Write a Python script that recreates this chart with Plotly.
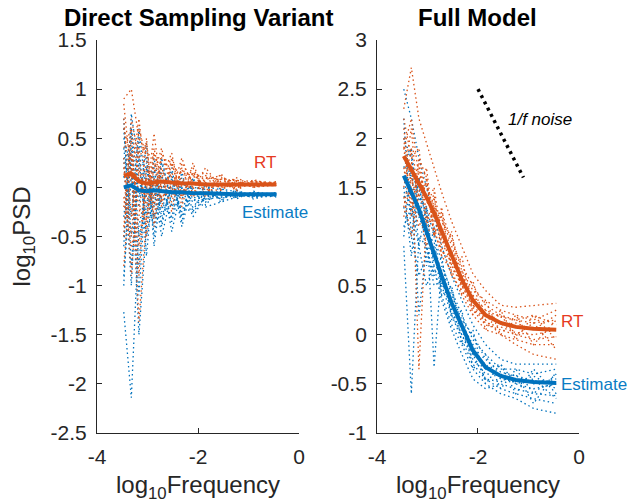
import plotly.graph_objects as go
from plotly.subplots import make_subplots

# log10 frequency grid shared by all spectra
freq = [-3.47, -3.32, -3.17, -3.02, -2.87, -2.72, -2.52, -2.32, -2.1, -1.85, -1.55, -1.25, -0.9, -0.45]

# Direct Sampling Variant
ds_rt_mean = [0.12, 0.14, 0.06, 0.04, 0.05, 0.06, 0.05, 0.04, 0.04, 0.03, 0.03, 0.03, 0.03, 0.03]
ds_est_mean = [0.0, 0.02, -0.03, -0.04, -0.03, -0.04, -0.05, -0.05, -0.06, -0.06, -0.07, -0.07, -0.07, -0.07]
ds_rt = [
    [0.9, 1.0, 0.5, 0.35, 0.3, 0.25, 0.2, 0.15, 0.12, 0.1, 0.08, 0.07, 0.06, 0.05],
    [0.6, 0.3, -1.37, -0.3, 0.1, -0.1, 0.0, 0.1, -0.05, 0.05, 0.0, 0.02, 0.01, 0.02],
    [-0.5, 0.7, 0.3, 0.45, -0.2, 0.3, 0.25, -0.1, 0.15, 0.0, 0.1, 0.05, 0.04, 0.03],
    [0.3, -0.9, 0.2, -0.2, 0.4, 0.0, -0.15, 0.2, 0.0, 0.12, 0.02, 0.0, 0.05, 0.04],
    [-0.2, 0.5, -0.6, 0.1, -0.1, 0.35, 0.1, 0.05, 0.2, -0.05, 0.06, 0.08, 0.0, 0.03],
    [0.7, -0.3, 0.4, -0.5, 0.25, -0.2, 0.3, 0.0, -0.1, 0.08, 0.12, 0.01, 0.03, 0.02],
    [-0.8, 0.2, -0.9, 0.2, 0.0, 0.15, -0.25, 0.25, 0.05, -0.02, -0.03, 0.06, 0.02, 0.04],
    [0.4, 0.6, 0.1, -0.1, 0.55, -0.05, 0.15, -0.05, 0.1, 0.15, 0.04, -0.01, 0.07, 0.03],
    [0.2, -0.5, 0.6, 0.3, -0.3, 0.2, -0.1, 0.18, -0.08, 0.1, -0.02, 0.07, 0.0, 0.05],
    [-0.4, 0.35, -0.2, -0.35, 0.35, -0.15, 0.25, -0.12, 0.16, -0.06, 0.09, -0.02, 0.06, 0.02],
    [0.85, 0.1, 0.7, 0.0, 0.15, 0.4, -0.05, 0.3, -0.02, 0.2, 0.0, 0.1, 0.02, 0.06],
    [-0.1, -0.6, -0.3, 0.5, -0.4, 0.1, 0.35, -0.2, 0.25, -0.1, 0.14, -0.04, 0.08, 0.01],
]
ds_est = [
    [-1.27, -2.14, -0.4, 0.0, -0.3, -0.1, -0.2, -0.15, -0.1, -0.12, -0.1, -0.09, -0.08, -0.08],
    [0.5, 0.2, -1.5, -0.4, 0.1, -0.3, 0.0, -0.1, -0.2, -0.05, -0.08, -0.06, -0.1, -0.07],
    [-0.6, 0.75, 0.2, 0.3, -0.5, 0.1, -0.35, 0.05, -0.05, -0.15, -0.04, -0.1, -0.06, -0.09],
    [0.3, -1.0, 0.5, -0.7, 0.2, -0.4, 0.1, -0.3, 0.0, -0.02, -0.12, -0.05, -0.07, -0.06],
    [-0.3, 0.4, -0.8, 0.2, -0.2, 0.25, -0.1, -0.2, -0.25, -0.1, -0.06, -0.08, -0.09, -0.08],
    [0.6, -0.5, 0.1, -0.3, 0.3, -0.15, -0.3, 0.1, -0.12, -0.2, -0.15, -0.1, -0.05, -0.07],
    [-0.9, 0.1, -0.2, 0.45, -0.6, 0.0, 0.15, -0.4, 0.05, 0.0, -0.02, -0.04, -0.08, -0.06],
    [0.1, 0.55, -0.5, -0.2, 0.0, -0.5, -0.05, 0.0, -0.3, -0.08, -0.1, -0.07, -0.1, -0.09],
    [0.4, -0.3, 0.6, -0.1, -0.4, 0.3, -0.2, 0.15, -0.25, 0.05, -0.15, -0.02, -0.12, -0.05],
    [-0.5, 0.3, -1.1, 0.1, 0.2, -0.25, 0.2, -0.35, 0.1, -0.18, 0.0, -0.12, -0.04, -0.1],
    [0.7, -0.8, 0.3, -0.5, -0.1, 0.15, -0.45, 0.0, -0.15, 0.02, -0.13, -0.03, -0.09, -0.07],
    [-1.0, 0.6, -0.1, 0.25, -0.3, -0.35, 0.05, -0.25, 0.08, -0.12, -0.05, -0.1, -0.06, -0.08],
]

# Full Model
fm_rt_mean = [1.82, 1.68, 1.55, 1.40, 1.24, 1.06, 0.80, 0.56, 0.35, 0.20, 0.12, 0.08, 0.06, 0.05]
fm_est_mean = [1.62, 1.45, 1.28, 1.05, 0.82, 0.6, 0.32, 0.08, -0.16, -0.33, -0.42, -0.46, -0.48, -0.49]
fm_rt = [
    [2.3, 2.72, 2.2, 1.95, 1.7, 1.45, 1.15, 0.9, 0.62, 0.45, 0.3, 0.28, 0.3, 0.32],
    [1.5, 1.9, -0.35, 1.2, 1.1, 0.8, 0.65, 0.4, 0.2, 0.05, 0.0, -0.05, -0.1, -0.1],
    [2.0, 1.2, 1.8, 1.6, 1.0, 1.25, 0.95, 0.7, 0.5, 0.3, 0.2, 0.15, 0.12, 0.15],
    [1.2, 1.6, 1.3, 0.9, 1.4, 0.9, 0.6, 0.45, 0.25, 0.1, 0.05, 0.0, -0.05, -0.02],
    [1.9, 2.2, 1.6, 1.5, 1.3, 1.2, 0.9, 0.6, 0.4, 0.25, 0.18, 0.15, 0.2, 0.1],
    [1.7, 1.4, 1.1, 1.3, 1.5, 1.0, 0.7, 0.5, 0.3, 0.15, 0.0, -0.1, -0.2, -0.25],
    [2.2, 1.8, 1.9, 1.2, 1.2, 1.15, 1.0, 0.65, 0.45, 0.35, 0.25, 0.2, 0.15, 0.25],
    [1.4, 1.0, 1.45, 1.7, 1.05, 0.85, 0.75, 0.5, 0.28, 0.12, 0.08, 0.02, 0.0, 0.05],
    [1.6, 2.1, 1.2, 1.6, 1.0, 1.3, 0.6, 0.8, 0.2, 0.35, 0.0, 0.2, -0.1, 0.15],
    [2.1, 1.5, 1.75, 1.1, 1.45, 0.8, 1.05, 0.4, 0.55, 0.05, 0.25, -0.05, 0.2, -0.05],
    [1.3, 1.75, 1.4, 1.55, 1.15, 1.2, 0.7, 0.65, 0.3, 0.25, 0.1, 0.12, 0.05, 0.2],
    [1.9, 1.3, 1.7, 1.35, 1.3, 0.95, 0.85, 0.5, 0.4, 0.15, 0.2, 0.0, 0.12, -0.15],
]
fm_est = [
    [2.5, 2.2, 1.8, 1.5, 1.2, 0.9, 0.6, 0.35, 0.1, -0.1, -0.25, -0.3, -0.3, -0.3],
    [0.9, -0.6, 1.0, 0.9, 0.6, 0.5, 0.2, -0.05, -0.3, -0.45, -0.55, -0.6, -0.65, -0.7],
    [1.8, 1.6, 1.5, 1.2, -0.33, 0.7, 0.45, 0.2, -0.05, -0.2, -0.35, -0.35, -0.4, -0.35],
    [1.3, 1.0, 0.6, 0.8, 0.9, 0.4, 0.1, -0.1, -0.35, -0.5, -0.6, -0.65, -0.75, -0.8],
    [2.0, 1.8, 1.4, 1.3, 1.0, 0.75, 0.4, 0.15, 0.0, -0.25, -0.38, -0.42, -0.5, -0.45],
    [1.1, 1.3, 0.9, 0.5, 0.7, 0.35, 0.05, -0.2, -0.45, -0.55, -0.5, -0.55, -0.6, -0.62],
    [1.6, 1.2, 1.6, 1.1, 0.8, 0.6, 0.3, 0.05, -0.2, -0.3, -0.45, -0.48, -0.42, -0.55],
    [1.4, 1.5, 0.2, 0.9, 0.5, 0.55, 0.25, 0.0, -0.25, -0.4, -0.4, -0.5, -0.55, -0.5],
    [2.2, 1.0, 1.6, 0.7, 1.1, 0.4, 0.5, -0.1, 0.05, -0.5, -0.3, -0.6, -0.35, -0.6],
    [1.0, 1.7, 0.9, 1.3, 0.6, 0.8, 0.15, 0.25, -0.35, -0.2, -0.55, -0.35, -0.6, -0.4],
    [1.7, 1.9, 1.2, 1.0, 0.95, 0.5, 0.45, 0.1, -0.1, -0.35, -0.3, -0.5, -0.45, -0.65],
    [1.5, 0.8, 1.4, 1.25, 0.7, 0.65, 0.2, 0.0, -0.2, -0.45, -0.48, -0.4, -0.7, -0.38],
]

# 1/f reference line
noise_x = [-2.0, -1.1]
noise_y = [2.5, 1.6]

x_ticks = [-4, -2, 0]
x_ticktext = ["-4", "-2", "0"]
ds_yticks = [-2.5, -2, -1.5, -1, -0.5, 0, 0.5, 1, 1.5]
ds_yticktext = ["-2.5", "-2", "-1.5", "-1", "-0.5", "0", "0.5", "1", "1.5"]
fm_yticks = [-1, -0.5, 0, 0.5, 1, 1.5, 2, 2.5, 3]
fm_yticktext = ["-1", "-0.5", "0", "0.5", "1", "1.5", "2", "2.5", "3"]

BLUE = "#0072BD"
ORANGE = "#D95319"
AXC = "#262626"
FONT = "Liberation Sans, Arial, sans-serif"

fig = make_subplots(rows=1, cols=2)


def add_panel(col, rt, est, rt_mean, est_mean):
    for tr in est:
        fig.add_trace(go.Scatter(x=freq, y=tr, mode="lines",
                                 line=dict(color=BLUE, width=1.3, dash="1.5px,3px")),
                      row=1, col=col)
    for tr in rt:
        fig.add_trace(go.Scatter(x=freq, y=tr, mode="lines",
                                 line=dict(color=ORANGE, width=1.3, dash="1.5px,3px")),
                      row=1, col=col)
    fig.add_trace(go.Scatter(x=freq, y=est_mean, mode="lines",
                             line=dict(color=BLUE, width=4)), row=1, col=col)
    fig.add_trace(go.Scatter(x=freq, y=rt_mean, mode="lines",
                             line=dict(color=ORANGE, width=4)), row=1, col=col)


add_panel(1, ds_rt, ds_est, ds_rt_mean, ds_est_mean)
add_panel(2, fm_rt, fm_est, fm_rt_mean, fm_est_mean)

fig.add_trace(go.Scatter(x=noise_x, y=noise_y, mode="lines",
                         line=dict(color="black", width=3.5, dash="3px,4px")),
              row=1, col=2)

axis_style = dict(showline=True, linecolor=AXC, linewidth=1, ticks="inside",
                  ticklen=5, tickcolor=AXC, showgrid=False, zeroline=False,
                  automargin=False,
                  tickfont=dict(family=FONT, size=21, color=AXC))

fig.update_xaxes(**axis_style, range=[-4, 0], tickvals=x_ticks, ticktext=x_ticktext,
                 ticklabelstandoff=5,
                 title=dict(text="log<sub>10</sub>Frequency",
                            font=dict(family=FONT, size=24, color=AXC), standoff=9))
fig.update_xaxes(domain=[0.1547, 0.4769], row=1, col=1)
fig.update_xaxes(domain=[0.6013, 0.9234], row=1, col=2)
fig.update_yaxes(**axis_style, domain=[0.1409, 0.9206], ticklabelstandoff=5)
fig.update_yaxes(range=[-2.5, 1.5], tickvals=ds_yticks, ticktext=ds_yticktext,
                 title=dict(text="log<sub>10</sub>PSD",
                            font=dict(family=FONT, size=24, color=AXC), standoff=13),
                 row=1, col=1)
fig.update_yaxes(range=[-1, 3], tickvals=fm_yticks, ticktext=fm_yticktext, row=1, col=2)

ann = [
    dict(text="<b>Direct Sampling Variant</b>", xref="x domain", yref="paper",
         x=0.5, y=0.9643, yanchor="middle", showarrow=False,
         font=dict(family=FONT, size=24, color="black")),
    dict(text="<b>Full Model</b>", xref="x2 domain", yref="paper",
         x=0.5, y=0.9643, yanchor="middle", showarrow=False,
         font=dict(family=FONT, size=24, color="black")),
    dict(text="RT", xref="x", yref="y", x=-0.67, y=0.25, showarrow=False,
         font=dict(family=FONT, size=17, color="#E63A22")),
    dict(text="Estimate", xref="x", yref="y", x=-0.47, y=-0.26, showarrow=False,
         font=dict(family=FONT, size=17, color="#0A7CC4")),
    dict(text="RT", xref="x2", yref="y2", x=-0.39, y=0.13, xanchor="left",
         showarrow=False, font=dict(family=FONT, size=17, color="#E63A22")),
    dict(text="Estimate", xref="x2", yref="y2", x=-0.39, y=-0.51, xanchor="left",
         showarrow=False, font=dict(family=FONT, size=17, color="#0A7CC4")),
    dict(text="<i>1/f noise</i>", xref="x2", yref="y2", x=-1.45, y=2.19, xanchor="left",
         showarrow=False, font=dict(family=FONT, size=17, color="black")),
]

fig.update_layout(width=627, height=504, margin=dict(l=0, r=0, t=0, b=0),
                  plot_bgcolor="white", paper_bgcolor="white", showlegend=False,
                  annotations=ann)

# drop the default page margin so the 627x504 figure fills the window exactly
fig.write_html("out.html", config={"displayModeBar": False},
               post_script="document.body.style.margin='0px';"
                           "document.body.style.overflow='hidden';")
